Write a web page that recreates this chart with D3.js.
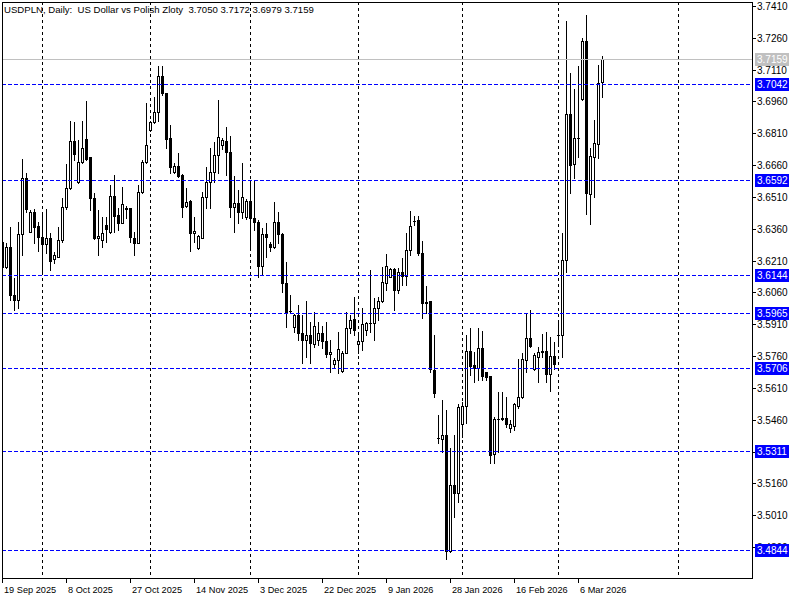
<!DOCTYPE html>
<html lang="en">
<head>
<meta charset="UTF-8">
<title>USDPLN Daily</title>
<style>
  body { margin: 0; background: #fff; }
  text { font-family: "Liberation Sans", Arial, sans-serif; font-size: 10px; }
  .date { font-size: 9.2px; }
  .title { font-size: 9.6px; }
</style>
</head>
<body>
<svg id="chart" width="800" height="600"></svg>

<script src="https://d3js.org/d3.v7.min.js"></script>
<script>
// daily bars, 19 Sep 2025 .. 13 Mar 2026 (6 bars a week)
var open = [3.6299,3.6178,3.6273,3.6048,3.6024,3.6335,3.6598,3.6346,3.6437,3.6373,
  3.6320,3.6287,3.6315,3.6216,3.6229,3.6306,3.6463,3.6551,3.6774,3.6579,
  3.6673,3.6782,3.6697,3.6504,3.6315,3.6306,3.6378,3.6346,3.6515,3.6425,
  3.6389,3.6456,3.6456,3.6315,3.6294,3.6532,3.6676,3.6826,3.6863,3.6909,
  3.7082,3.6998,3.6786,3.6626,3.6656,3.6613,3.6469,3.6491,3.6339,3.6268,
  3.6318,3.6508,3.6582,3.6626,3.6708,3.6755,3.6774,3.6720,3.6464,3.6480,
  3.6441,3.6414,3.6491,3.6409,3.6390,3.6186,3.6335,3.6288,3.6276,3.6390,
  3.6334,3.6103,3.5974,3.5895,3.5953,3.5867,3.5836,3.5858,3.5815,3.5836,
  3.5867,3.5831,3.5768,3.5723,3.5742,3.5691,3.5776,3.5891,3.5933,3.5815,
  3.5831,3.5883,3.5914,3.5914,3.5985,3.6021,3.6106,3.6134,3.6170,3.6071,
  3.6155,3.6137,3.6260,3.6396,3.6401,3.6244,3.6012,3.6020,3.5695,3.5375,
  3.5367,3.5386,3.4843,3.5152,3.5113,3.5438,3.5526,3.5784,3.5718,3.5702,
  3.5796,3.5683,3.5666,3.5298,3.5463,3.5465,3.5466,3.5423,3.5432,3.5526,
  3.5565,3.5742,3.5847,3.5698,3.5757,3.5784,3.5784,3.5676,3.5760,3.5857,
  3.5859,3.6213,3.6899,3.6664,3.6790,3.6970,3.7245,3.6522,3.6700,3.6760,
  3.7050];
var high = [3.6310,3.6291,3.6370,3.6126,3.6394,3.6689,3.6621,3.6449,3.6452,3.6394,
  3.6436,3.6453,3.6339,3.6252,3.6370,3.6504,3.6664,3.6868,3.6865,3.6778,
  3.6868,3.6962,3.6700,3.6527,3.6448,3.6417,3.6417,3.6566,3.6614,3.6456,
  3.6559,3.6467,3.6460,3.6346,3.6566,3.6684,3.6951,3.6868,3.6983,3.7127,
  3.7127,3.7002,3.6849,3.6668,3.6716,3.6616,3.6551,3.6496,3.6417,3.6331,
  3.6535,3.6650,3.6739,3.6771,3.6967,3.6786,3.6841,3.6797,3.6609,3.6543,
  3.6672,3.6499,3.6590,3.6587,3.6401,3.6362,3.6386,3.6299,3.6485,3.6437,
  3.6339,3.6205,3.6048,3.5958,3.6001,3.5953,3.6021,3.5922,3.5969,3.5922,
  3.5902,3.5922,3.5836,3.5749,3.5875,3.5786,3.5969,3.5953,3.6040,3.5870,
  3.5985,3.5922,3.6166,3.6032,3.6040,3.6181,3.6241,3.6177,3.6174,3.6174,
  3.6221,3.6342,3.6444,3.6420,3.6420,3.6302,3.6090,3.6021,3.5859,3.5482,
  3.5553,3.5506,3.5325,3.5388,3.5534,3.5545,3.5859,3.5891,3.5781,3.5891,
  3.5878,3.5687,3.5667,3.5474,3.5589,3.5589,3.5569,3.5459,3.5537,3.5745,
  3.5776,3.5961,3.5977,3.5773,3.5804,3.5862,3.5872,3.5851,3.5828,3.5930,
  3.6339,3.7339,3.7096,3.7020,3.7129,3.7258,3.7368,3.6742,3.6873,3.7132,
  3.7172];
var low = [3.6160,3.6174,3.6024,3.5977,3.5985,3.6236,3.6441,3.6344,3.6295,3.6257,
  3.6150,3.6244,3.6166,3.6197,3.6225,3.6299,3.6452,3.6549,3.6684,3.6577,
  3.6668,3.6684,3.6448,3.6312,3.6236,3.6276,3.6299,3.6339,3.6346,3.6354,
  3.6386,3.6409,3.6299,3.6236,3.6291,3.6530,3.6668,3.6822,3.6857,3.6870,
  3.6991,3.6739,3.6621,3.6621,3.6606,3.6417,3.6464,3.6257,3.6299,3.6263,
  3.6315,3.6456,3.6456,3.6582,3.6621,3.6735,3.6613,3.6417,3.6346,3.6389,
  3.6409,3.6405,3.6276,3.6354,3.6134,3.6142,3.6229,3.6257,3.6268,3.6291,
  3.6064,3.5899,3.5961,3.5875,3.5836,3.5726,3.5757,3.5726,3.5804,3.5812,
  3.5797,3.5757,3.5687,3.5702,3.5679,3.5687,3.5773,3.5870,3.5859,3.5773,
  3.5789,3.5859,3.5875,3.5836,3.5930,3.6016,3.6071,3.6131,3.5977,3.6056,
  3.6095,3.6095,3.6236,3.6378,3.6236,3.5938,3.5961,3.5686,3.5565,3.5352,
  3.5309,3.4802,3.4838,3.5003,3.5074,3.5380,3.5446,3.5671,3.5639,3.5647,
  3.5647,3.5647,3.5254,3.5254,3.5309,3.5459,3.5427,3.5404,3.5412,3.5514,
  3.5561,3.5686,3.5804,3.5694,3.5639,3.5757,3.5639,3.5597,3.5698,3.5820,
  3.5754,3.6158,3.6530,3.6598,3.6697,3.6967,3.6428,3.6381,3.6508,3.6692,
  3.6979];
var close = [3.6178,3.6273,3.6048,3.6024,3.6335,3.6598,3.6452,3.6441,3.6370,3.6320,
  3.6287,3.6315,3.6210,3.6235,3.6306,3.6463,3.6551,3.6774,3.6711,3.6673,
  3.6739,3.6689,3.6504,3.6315,3.6326,3.6339,3.6357,3.6515,3.6422,3.6386,
  3.6475,3.6454,3.6320,3.6294,3.6532,3.6673,3.6753,3.6863,3.6909,3.7082,
  3.6998,3.6785,3.6650,3.6656,3.6610,3.6464,3.6485,3.6339,3.6348,3.6326,
  3.6508,3.6582,3.6626,3.6708,3.6791,3.6777,3.6720,3.6461,3.6480,3.6441,
  3.6510,3.6491,3.6409,3.6390,3.6186,3.6335,3.6323,3.6276,3.6390,3.6334,
  3.6103,3.5969,3.5971,3.5953,3.5867,3.5836,3.5858,3.5820,3.5902,3.5867,
  3.5831,3.5768,3.5777,3.5742,3.5792,3.5776,3.5891,3.5930,3.5883,3.5831,
  3.5911,3.5914,3.5916,3.5985,3.6021,3.6111,3.6186,3.6170,3.6071,3.6155,
  3.6137,3.6260,3.6373,3.6398,3.6244,3.6012,3.6014,3.5698,3.5584,3.5373,
  3.5386,3.4843,3.5152,3.5113,3.5518,3.5526,3.5784,3.5715,3.5702,3.5796,
  3.5668,3.5663,3.5294,3.5463,3.5465,3.5466,3.5440,3.5440,3.5532,3.5565,
  3.5745,3.5847,3.5809,3.5765,3.5778,3.5778,3.5676,3.5760,3.5723,3.5859,
  3.6213,3.6899,3.6661,3.6790,3.6789,3.7245,3.6527,3.6703,3.6763,3.7049,
  3.7159];

var priceTicks = [3.7410,3.7260,3.7110,3.6960,3.6810,3.6660,3.6510,3.6360,3.6210,
  3.6060,3.5910,3.5760,3.5610,3.5460,3.5310,3.5160,3.5010,3.4860];
var levels = [3.7042,3.6592,3.6144,3.5965,3.5706,3.5311,3.4844];
var bid = 3.7159;

var dateLabels = ["19 Sep 2025","8 Oct 2025","27 Oct 2025","14 Nov 2025","3 Dec 2025",
  "22 Dec 2025","9 Jan 2026","28 Jan 2026","16 Feb 2026","6 Mar 2026"];
var dateBars = [0,16,32,48,64,80,96,112,128,144];
// first bar of each month (Oct .. Apr), used for the vertical grid
var monthBars = [10,37,62,89,115,139,169];

var title = "USDPLN, Daily:  US Dollar vs Polish Zloty  3.7050 3.7172 3.6979 3.7159";

var svg = d3.select("#chart"),
  L = 2, R = 752, T = 2, B = 578,
  x = d3.scaleLinear().domain([0, 150]).range([2, 602]),
  y = d3.scaleLinear().domain([3.4860, 3.7410]).range([547, 6]);

function py(v) { return Math.round(y(v)); }
function px(i) { return Math.round(x(i)); }

svg.append("rect").attr("width", 800).attr("height", 600).attr("fill", "#fff");

svg.append("clipPath").attr("id", "plot")
  .append("rect").attr("x", L + 1).attr("y", T + 1).attr("width", R - L - 1).attr("height", B - T - 1);

var plot = svg.append("g").attr("clip-path", "url(#plot)");

// vertical grid
plot.selectAll(".grid").data(monthBars).join("line")
  .attr("class", "grid")
  .attr("x1", d => px(d) + 0.5).attr("x2", d => px(d) + 0.5)
  .attr("y1", T).attr("y2", B)
  .attr("stroke", "#000").attr("stroke-dasharray", "3,3");

// candles
var bars = d3.range(open.length).map(i => ({ i: i, o: open[i], h: high[i], l: low[i], c: close[i] }));

var g = plot.selectAll(".bar").data(bars).join("g").attr("class", "bar");

g.append("line")
  .attr("x1", d => px(d.i) + 0.5).attr("x2", d => px(d.i) + 0.5)
  .attr("y1", d => py(d.h)).attr("y2", d => py(d.l) + 1)
  .attr("stroke", "#000");

g.each(function (d) {
  var sel = d3.select(this), cx = px(d.i), yo = py(d.o), yc = py(d.c);
  if (yo == yc) {
    sel.append("line")
      .attr("x1", cx - 1).attr("x2", cx + 2)
      .attr("y1", yc + 0.5).attr("y2", yc + 0.5)
      .attr("stroke", "#000");
  } else if (d.c > d.o) {
    sel.append("rect")
      .attr("x", cx - 0.5).attr("y", yc + 0.5)
      .attr("width", 2).attr("height", yo - yc)
      .attr("fill", "#fff").attr("stroke", "#000");
  } else {
    sel.append("rect")
      .attr("x", cx - 1).attr("y", yo)
      .attr("width", 3).attr("height", yc - yo + 1)
      .attr("fill", "#000");
  }
});

// horizontal levels
plot.selectAll(".level").data(levels).join("line")
  .attr("class", "level")
  .attr("x1", L).attr("x2", R)
  .attr("y1", d => py(d) + 0.5).attr("y2", d => py(d) + 0.5)
  .attr("stroke", "#0000ff").attr("stroke-dasharray", "4,2");

// bid line
plot.append("line")
  .attr("x1", L).attr("x2", R)
  .attr("y1", py(bid) + 0.5).attr("y2", py(bid) + 0.5)
  .attr("stroke", "#c0c0c0");

// frame
svg.append("rect")
  .attr("x", L + 0.5).attr("y", T + 0.5)
  .attr("width", R - L).attr("height", B - T)
  .attr("fill", "none").attr("stroke", "#000");

// price axis
var pa = svg.append("g");
pa.selectAll("line").data(priceTicks).join("line")
  .attr("x1", R).attr("x2", R + 4)
  .attr("y1", d => py(d) + 0.5).attr("y2", d => py(d) + 0.5)
  .attr("stroke", "#000");
pa.selectAll("text").data(priceTicks).join("text")
  .attr("x", R + 5).attr("y", d => py(d) + 4)
  .attr("fill", "#000")
  .text(d => d.toFixed(4));

// level labels (drawn over the tick labels, like the terminal does)
function tag(v, col) {
  svg.append("rect")
    .attr("x", R + 3).attr("y", py(v) - 6)
    .attr("width", 34).attr("height", 13)
    .attr("fill", col);
  svg.append("text")
    .attr("x", R + 5).attr("y", py(v) + 4)
    .attr("fill", "#fff")
    .text(v.toFixed(4));
}
tag(bid, "#c0c0c0");
levels.forEach(v => tag(v, "#0000ff"));

// time axis
var ta = svg.append("g");
ta.selectAll("line").data(dateBars).join("line")
  .attr("x1", d => px(d) + 0.5).attr("x2", d => px(d) + 0.5)
  .attr("y1", B).attr("y2", B + 5)
  .attr("stroke", "#000");
ta.selectAll("text").data(dateBars).join("text")
  .attr("class", "date")
  .attr("x", d => px(d) + 2).attr("y", 593)
  .attr("fill", "#000")
  .text((d, k) => dateLabels[k]);

svg.append("text")
  .attr("class", "title")
  .attr("x", 4).attr("y", 13)
  .attr("fill", "#000")
  .style("white-space", "pre")
  .text(title);
</script>
</body>
</html>
